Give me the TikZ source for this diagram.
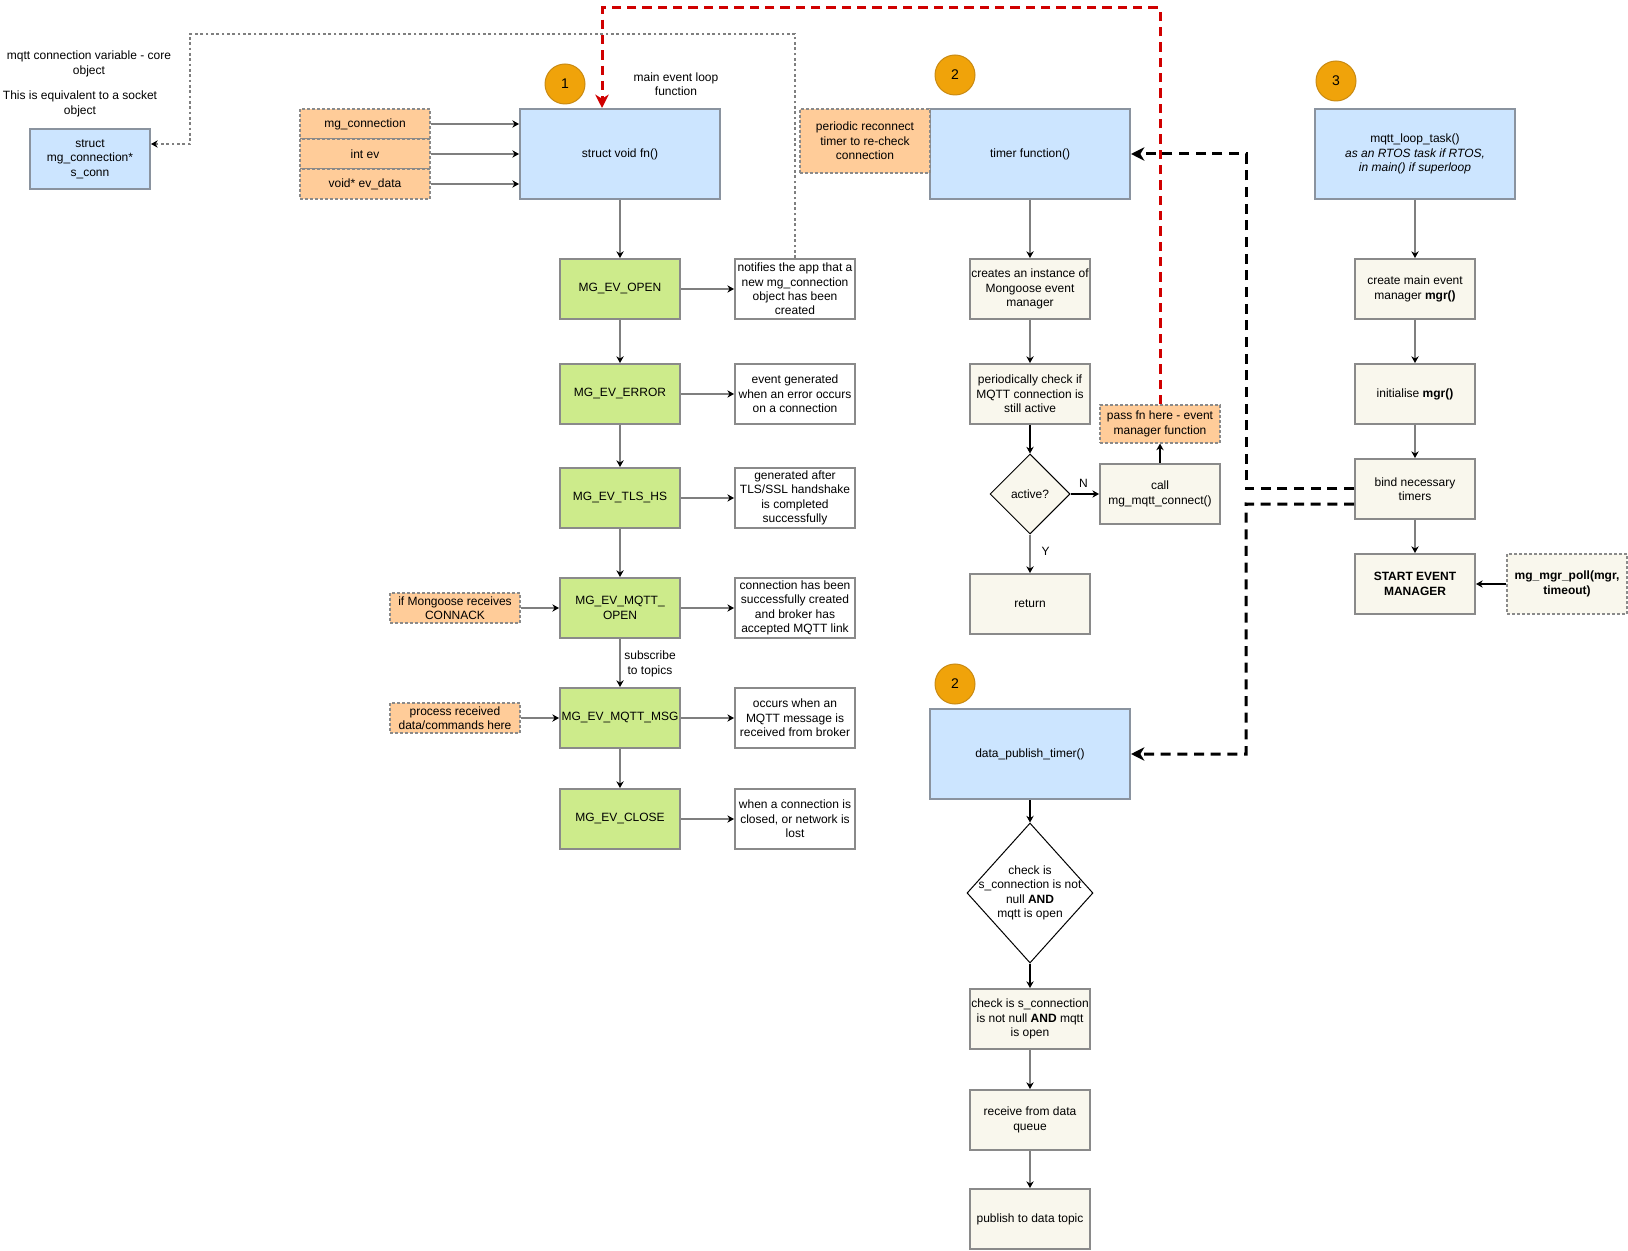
\documentclass[tikz,border=0pt]{standalone}
\usepackage{fontspec}
\setmainfont{Liberation Sans}
\usetikzlibrary{arrows.meta,shapes.geometric}

\definecolor{fnblue}{HTML}{CCE5FF}
\definecolor{fnline}{HTML}{8A939F}
\definecolor{evgreen}{HTML}{CDEB8B}
\definecolor{stepbeige}{HTML}{F9F7ED}
\definecolor{hintorange}{HTML}{FFCC99}
\definecolor{boxgray}{HTML}{8A8A8A}
\definecolor{linegray}{HTML}{7F7F7F}
\definecolor{badgefill}{HTML}{F0A30A}
\definecolor{badgeline}{HTML}{C98A12}
\definecolor{redline}{HTML}{D00000}

\begin{document}
\begin{tikzpicture}[x=0.75pt,y=-0.75pt,line width=1.5pt,
    font=\fontsize{9}{10.8}\selectfont,
    every node/.style={inner sep=0pt,align=center},
    fnbox/.style={draw=fnline,fill=fnblue,line width=1.5pt,minimum width=150pt,minimum height=67.5pt},
    evbox/.style={draw=boxgray,fill=evgreen,line width=1.5pt,minimum width=90pt,minimum height=45pt},
    notebox/.style={draw=boxgray,fill=white,line width=1.5pt,minimum width=90pt,minimum height=45pt},
    stepbox/.style={draw=boxgray,fill=stepbeige,line width=1.5pt,minimum width=90pt,minimum height=45pt},
    hintbox/.style={draw=boxgray,fill=hintorange,line width=0.9pt,dash pattern=on 2.25pt off 1.5pt,minimum width=97.5pt,minimum height=22.5pt},
    decision/.style={diamond,draw=black,line width=0.75pt},
    badge/.style={circle,draw=badgeline,fill=badgefill,line width=0.75pt,minimum size=30pt,font=\fontsize{10.5}{12}\selectfont},
    flow/.style={draw=linegray,-{Stealth[length=5pt,width=5.5pt,color=black]}},
    darkflow/.style={draw=black,-{Stealth[length=5pt,width=5.5pt]}},
    reflink/.style={draw=linegray,line width=1.2pt,dash pattern=on 2pt off 2pt,-{Stealth[length=5pt,width=5.5pt,color=black]}},
    redlink/.style={draw=redline,line width=2.25pt,dash pattern=on 7pt off 4.5pt,-{Stealth[length=10pt,width=10pt,inset=3pt]}},
    timerlink/.style={draw=black,line width=2.25pt,dash pattern=on 7.5pt off 5pt,-{Stealth[length=10pt,width=10pt,inset=3pt]}}]

    \useasboundingbox (0,0) rectangle (1628,1251);

    \node (corelbl) at (89,64) {mqtt connection variable - core\\object};
    \node (socketlbl) at (80,104) {This is equivalent to a socket\\object};
    \node[fnbox,minimum width=90pt,minimum height=45pt] (sconn) at (90,159) {struct\\mg\_connection*\\s\_conn};

    \node[fnbox] (fn) at (620,154) {struct void fn()};
    \node[badge] (one) at (565,84) {1};
    \node (mainlbl) at (676,84) {main event loop\\function};
    \foreach \n/\y/\txt in {pconn/124/{mg\_connection},pev/154/{int ev},pdata/184/{void* ev\_data}} {
        \node[hintbox] (\n) at (365,\y) {\txt};
        \draw[flow] (\n) -- (fn.west |- \n);
    }

    \foreach \n/\y/\ev/\txt in {
        open/289/{MG\_EV\_OPEN}/{notifies the app that a\\new mg\_connection\\object has been\\created},
        error/394/{MG\_EV\_ERROR}/{event generated\\when an error occurs\\on a connection},
        tls/498/{MG\_EV\_TLS\_HS}/{generated after\\TLS/SSL handshake\\is completed\\successfully},
        mqttopen/608/{MG\_EV\_MQTT\_\\OPEN}/{connection has been\\successfully created\\and broker has\\accepted MQTT link},
        mqttmsg/718/{MG\_EV\_MQTT\_MSG}/{occurs when an\\MQTT message is\\received from broker},
        close/819/{MG\_EV\_CLOSE}/{when a connection is\\closed, or network is\\lost}} {
        \node[evbox] (\n) at (620,\y) {\ev};
        \node[notebox] (\n-note) at (795,\y) {\txt};
        \draw[flow] (\n) -- (\n-note);
    }
    \foreach \a/\b in {fn/open,open/error,error/tls,tls/mqttopen,mqttopen/mqttmsg,mqttmsg/close} {
        \draw[flow] (\a) -- (\b);
    }
    \node (sublbl) at (650,664) {subscribe\\to topics};
    \node[hintbox] (connack) at (455,608) {if Mongoose receives\\CONNACK};
    \node[hintbox] (process) at (455,718) {process received\\data/commands here};
    \draw[flow] (connack) -- (mqttopen);
    \draw[flow] (process) -- (mqttmsg);

    \coordinate (sconnbend) at (190,144);
    \draw[reflink] (open-note.north) |- (190,34) -- (sconnbend) -- (sconn.east |- sconnbend);

    \node[badge] (two) at (955,75) {2};
    \node[fnbox] (timer) at (1030,154) {timer function()};
    \node[hintbox,minimum height=48pt] (reconnect) at (865,141) {periodic reconnect\\timer to re-check\\connection};
    \node[stepbox] (create) at (1030,289) {creates an instance of\\Mongoose event\\manager};
    \node[stepbox] (periodic) at (1030,394) {periodically check if\\MQTT connection is\\still active};
    \node[decision,fill=stepbeige,minimum width=60pt,minimum height=60pt] (active) at (1030,494) {active?};
    \node[stepbox] (return) at (1030,604) {return};
    \node[stepbox] (call) at (1160,494) {call\\mg\_mqtt\_connect()};
    \node[hintbox,minimum width=90pt,minimum height=28.5pt] (passfn) at (1160,424) {pass fn here - event\\manager function};
    \draw[flow] (timer) -- (create);
    \draw[flow] (create) -- (periodic);
    \draw[darkflow] (periodic) -- (active);
    \draw[flow] (active) -- node[pos=0.45,right=8pt] (ylbl) {Y} (return);
    \draw[darkflow] (active) -- node[pos=0.45,above=4pt] (nlbl) {N} (call);
    \draw[darkflow] (call) -- (passfn);

    \coordinate (redtop) at (602,8);
    \draw[redlink] (passfn.north) |- (redtop) -- (redtop |- fn.north);

    \node[badge] (three) at (1336,81) {3};
    \node[fnbox] (loop) at (1415,154) {mqtt\_loop\_task()\\\textit{as an RTOS task if RTOS,}\\\textit{in main() if superloop}};
    \node[stepbox] (mgr) at (1415,289) {create main event\\manager \textbf{mgr()}};
    \node[stepbox] (init) at (1415,394) {initialise \textbf{mgr()}};
    \node[stepbox] (bind) at (1415,489) {bind necessary\\timers};
    \node[stepbox,font=\fontsize{9}{10.8}\selectfont\bfseries] (start) at (1415,584) {START EVENT\\MANAGER};
    \node[stepbox,draw=boxgray,line width=0.9pt,dash pattern=on 2.25pt off 1.5pt,font=\fontsize{9}{10.8}\selectfont\bfseries] (poll) at (1567,584) {mg\_mgr\_poll(mgr,\\timeout)};
    \draw[flow] (loop) -- (mgr);
    \draw[flow] (mgr) -- (init);
    \draw[flow] (init) -- (bind);
    \draw[flow] (bind) -- (start);
    \draw[darkflow] (poll) -- (start);

    \node[badge] (twob) at (955,684) {2};
    \node[fnbox] (pub) at (1030,754) {data\_publish\_timer()};
    \node[decision,fill=white,minimum width=94.5pt,minimum height=105pt] (chk) at (1030,893) {};
    \node (chktxt) at (chk.center) {check is\\s\_connection is not\\null \textbf{AND}\\mqtt is open};
    \node[stepbox] (chkbox) at (1030,1019) {check is s\_connection\\is not null \textbf{AND} mqtt\\is open};
    \node[stepbox] (recv) at (1030,1120) {receive from data\\queue};
    \node[stepbox] (publish) at (1030,1219) {publish to data topic};
    \draw[darkflow] (pub) -- (chk);
    \draw[darkflow] (chk) -- (chkbox);
    \draw[flow] (chkbox) -- (recv);
    \draw[flow] (recv) -- (publish);

    \draw[timerlink] (bind.west) -- (1246,489) |- (timer.east);
    \draw[timerlink] (bind.194) -- (1246,504) |- (pub.east);
\end{tikzpicture}
\end{document}
